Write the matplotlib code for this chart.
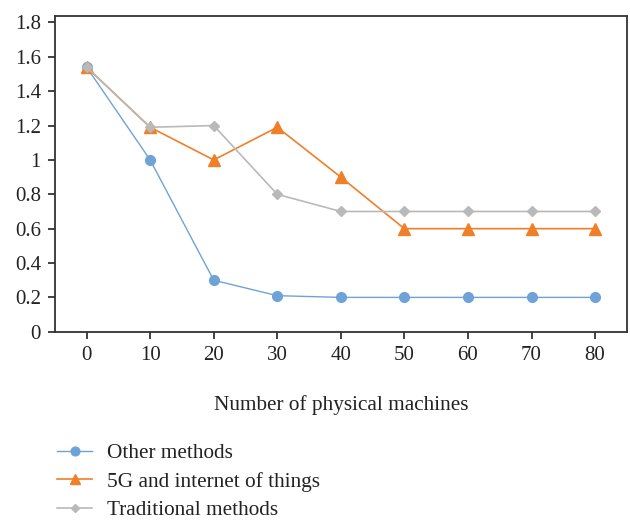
import matplotlib
matplotlib.use("Agg")
import matplotlib.pyplot as plt

plt.rcParams['font.family'] = ['Liberation Serif', 'DejaVu Serif']

machines = [0, 10, 20, 30, 40, 50, 60, 70, 80]
other_methods = [1.54, 1.0, 0.3, 0.21, 0.2, 0.2, 0.2, 0.2, 0.2]
iot_5g = [1.54, 1.19, 1.0, 1.19, 0.9, 0.6, 0.6, 0.6, 0.6]
traditional = [1.54, 1.19, 1.2, 0.8, 0.7, 0.7, 0.7, 0.7, 0.7]

fig = plt.figure(figsize=(6.3, 5.2), dpi=100)
ax = fig.add_axes([0.087, 0.362, 0.908, 0.607])

xs = range(len(machines))
ax.plot(xs, other_methods, color='#6fa3d8', lw=1, marker='o', ms=7,
        label='Other methods')
ax.plot(xs, iot_5g, color='#f07f2a', lw=1.2, marker='^', ms=8,
        label='5G and internet of things')
ax.plot(xs, traditional, color='#b9b9b9', lw=1.2, marker='D', ms=5,
        label='Traditional methods')

ax.set_xlim(-0.5, len(machines) - 0.5)
ax.set_ylim(0, 1.837)
ax.set_xticks(list(xs))
ax.set_xticklabels([str(m) for m in machines])
ax.set_yticks([0, 0.2, 0.4, 0.6, 0.8, 1, 1.2, 1.4, 1.6, 1.8])
ax.set_yticklabels(['0', '0.2', '0.4', '0.6', '0.8', '1', '1.2', '1.4', '1.6', '1.8'])
ax.tick_params(labelsize=15, colors='#222222', length=5, width=1.2, pad=5)
for s in ax.spines.values():
    s.set_color('#333333')
    s.set_linewidth(1.3)

ax.set_xlabel('Number of physical machines', fontsize=15.3, labelpad=22,
              color='#222222')

leg = ax.legend(loc='upper left', bbox_to_anchor=(57 / 630, 0.147),
                bbox_transform=fig.transFigure, frameon=False,
                fontsize=15.3, handlelength=1.65, labelspacing=0.4,
                borderpad=0, borderaxespad=0, handletextpad=0.7,
                markerscale=0.9)
for t in leg.get_texts():
    t.set_color('#222222')

fig.savefig('out.png', dpi=100)
